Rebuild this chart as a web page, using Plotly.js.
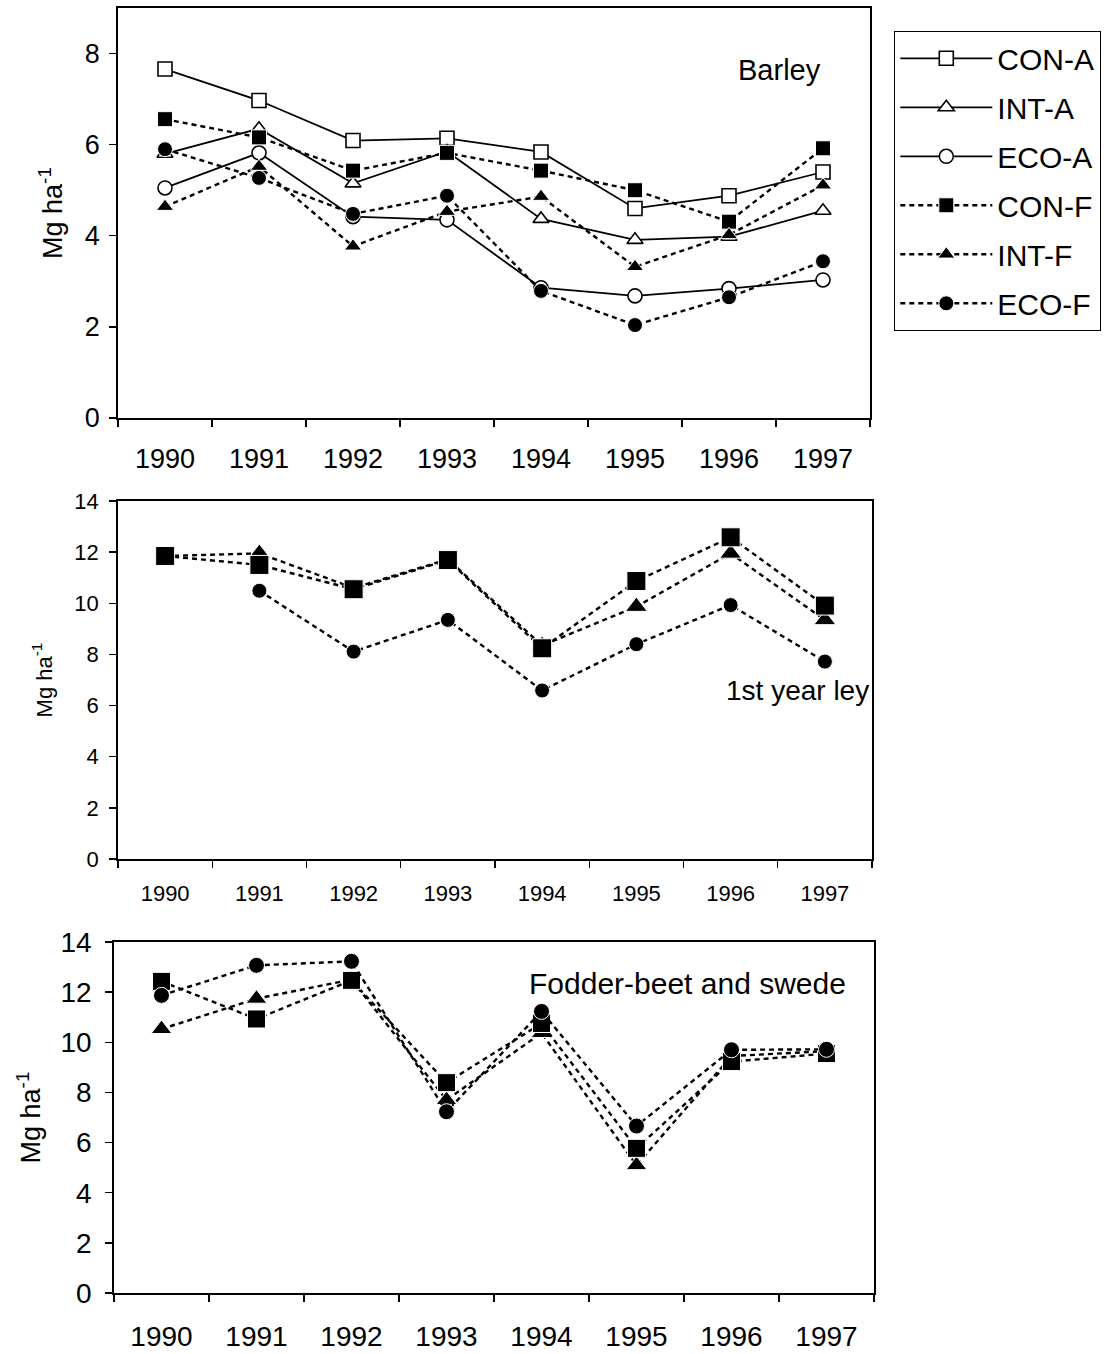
<!DOCTYPE html>
<html>
<head>
<meta charset="utf-8">
<script src="https://cdn.plot.ly/plotly-3.0.1.min.js"></script>
<style>
html,body{margin:0;padding:0;background:#fff;}
#chart{width:1106px;height:1354px;}
</style>
</head>
<body>
<div id="chart"></div>
<script>
// ---- data ----
const years = ['1990','1991','1992','1993','1994','1995','1996','1997'];
const seriesNames = ['CON-A','INT-A','ECO-A','CON-F','INT-F','ECO-F'];

// Barley (Mg ha-1)
const barleyConA = [7.66, 6.97, 6.09, 6.14, 5.84, 4.60, 4.88, 5.40];
const barleyIntA = [5.80, 6.35, 5.15, 5.85, 4.37, 3.91, 3.98, 4.55];
const barleyEcoA = [5.05, 5.82, 4.42, 4.35, 2.86, 2.68, 2.84, 3.03];
const barleyConF = [6.56, 6.16, 5.43, 5.82, 5.43, 5.00, 4.31, 5.92];
const barleyIntF = [4.64, 5.52, 3.77, 4.53, 4.86, 3.32, 4.02, 5.11];
const barleyEcoF = [5.90, 5.27, 4.48, 4.88, 2.79, 2.04, 2.65, 3.44];

// 1st year ley
const leyConF = [11.85, 11.50, 10.55, 11.69, 8.24, 10.87, 12.58, 9.91];
const leyIntF = [11.85, 11.95, 10.60, 11.72, 8.35, 9.87, 11.95, 9.35];
const leyEcoF = [null, 10.49, 8.11, 9.35, 6.59, 8.40, 9.93, 7.72];

// Fodder-beet and swede
const fodConF = [12.43, 10.93, 12.47, 8.39, 10.75, 5.77, 9.23, 9.55];
const fodIntF = [10.53, 11.74, 12.50, 7.70, 10.37, 5.10, 9.45, 9.65];
const fodEcoF = [11.87, 13.07, 13.23, 7.23, 11.23, 6.66, 9.70, 9.72];

const panelLabels = ['Barley', '1st year ley', 'Fodder-beet and swede'];
const yTitle = 'Mg ha<sup>-1</sup>';

// ---- styles ----
const FONT = 'Liberation Sans, Arial, sans-serif';
const solidLine = {color:'#000', width:1.8, dash:'solid'};
const dotLine = {color:'#000', width:2.4, dash:'5px,4px'};
function openMk(sym, size){ return {symbol:sym, size:size, color:'#fff', line:{color:'#000', width:1.6}}; }
function fillMk(sym, size){ return {symbol:sym, size:size, color:'#000', line:{color:'#fff', width:1}}; }

function tr(y, name, xa, ya, line, marker, legend, group){
  return {x: years, y: y, name: name, type:'scatter', mode:'lines+markers',
    xaxis: xa, yaxis: ya, line: line, marker: marker, connectgaps:false,
    showlegend: legend, legendgroup: group, cliponaxis:false};
}

const traces = [
  // Barley (top)
  tr(barleyConA, seriesNames[0], 'x', 'y', solidLine, openMk('square', 14), true, 'g1'),
  tr(barleyIntA, seriesNames[1], 'x', 'y', solidLine, openMk('triangle-up', 14), true, 'g2'),
  tr(barleyEcoA, seriesNames[2], 'x', 'y', solidLine, openMk('circle', 14), true, 'g3'),
  tr(barleyConF, seriesNames[3], 'x', 'y', dotLine, fillMk('square', 15), true, 'g4'),
  tr(barleyIntF, seriesNames[4], 'x', 'y', dotLine, fillMk('triangle-up', 15), true, 'g5'),
  tr(barleyEcoF, seriesNames[5], 'x', 'y', dotLine, fillMk('circle', 15), true, 'g6'),
  // Ley (middle)
  tr(leyIntF, seriesNames[4], 'x2', 'y2', dotLine, fillMk('triangle-up', 19), false, 'm5'),
  tr(leyConF, seriesNames[3], 'x2', 'y2', dotLine, fillMk('square', 19), false, 'm4'),
  tr(leyEcoF, seriesNames[5], 'x2', 'y2', dotLine, fillMk('circle', 15), false, 'm6'),
  // Fodder (bottom)
  tr(fodIntF, seriesNames[4], 'x3', 'y3', dotLine, fillMk('triangle-up', 18), false, 'b5'),
  tr(fodConF, seriesNames[3], 'x3', 'y3', dotLine, fillMk('square', 18), false, 'b4'),
  tr(fodEcoF, seriesNames[5], 'x3', 'y3', dotLine, fillMk('circle', 16), false, 'b6')
];

const W = 1106, H = 1354;
function xd(l, r){ return [l / W, r / W]; }
function yd(top, bot){ return [1 - bot / H, 1 - top / H]; }

function xAxis(anchor, dom, fs, standoff){
  return {type:'category', domain: dom, anchor: anchor, range:[-0.5, 7.5],
    tickson:'boundaries', ticks:'outside', ticklen:7, tickwidth:1.3, tickcolor:'#000',
    showline:true, linecolor:'#000', linewidth:1.8, mirror:true,
    showgrid:false, zeroline:false, fixedrange:true,
    tickfont:{family:FONT, size:fs, color:'#000'}, ticklabelstandoff: standoff};
}
function yAxis(anchor, dom, rng, fs, tfs, standoff, lblstand){
  return {domain: dom, anchor: anchor, range: rng, dtick:2, tick0:0,
    ticks:'outside', ticklen:7, tickwidth:1.3, tickcolor:'#000',
    showline:true, linecolor:'#000', linewidth:1.8, mirror:true,
    showgrid:false, zeroline:false, fixedrange:true,
    tickfont:{family:FONT, size:fs, color:'#000'}, ticklabelstandoff: lblstand,
    title:{text: yTitle, font:{family:FONT, size:tfs, color:'#000'}, standoff: standoff}};
}

const layout = {
  width: W, height: H,
  margin:{l:0, r:0, t:0, b:0, pad:0},
  paper_bgcolor:'#fff', plot_bgcolor:'#fff',
  font:{family:FONT, color:'#000'},
  xaxis:  xAxis('y',  xd(118, 870), 27, 16),
  yaxis:  yAxis('x',  yd(8, 418), [0, 9], 27, 27, 14, 4),
  xaxis2: xAxis('y2', xd(118, 872), 22, 14),
  yaxis2: yAxis('x2', yd(501, 859), [0, 14], 22, 22, 16, 6),
  xaxis3: xAxis('y3', xd(114, 874), 28, 18),
  yaxis3: yAxis('x3', yd(942, 1293), [0, 14], 28, 27, 12, 8),
  showlegend: true,
  legend:{x: 894 / W, y: 1 - 31 / H, xanchor:'left', yanchor:'top',
    bgcolor:'#fff', bordercolor:'#000', borderwidth:1.3,
    font:{family:FONT, size:30, color:'#000'},
    itemwidth: 92, tracegroupgap: 7, traceorder:'grouped', itemclick:false, itemdoubleclick:false},
  annotations:[
    {text: panelLabels[0], xref:'paper', yref:'paper', x: 823 / W, y: 1 - 70 / H,
     xanchor:'right', yanchor:'middle', showarrow:false, font:{family:FONT, size:29, color:'#000'}},
    {text: panelLabels[1], xref:'paper', yref:'paper', x: 871 / W, y: 1 - 691 / H,
     xanchor:'right', yanchor:'middle', showarrow:false, font:{family:FONT, size:28, color:'#000'}},
    {text: panelLabels[2], xref:'paper', yref:'paper', x: 848 / W, y: 1 - 983 / H,
     xanchor:'right', yanchor:'middle', showarrow:false, font:{family:FONT, size:30, color:'#000'}}
  ]
};

Plotly.newPlot('chart', traces, layout, {displayModeBar:false, staticPlot:true});
</script>
</body>
</html>
